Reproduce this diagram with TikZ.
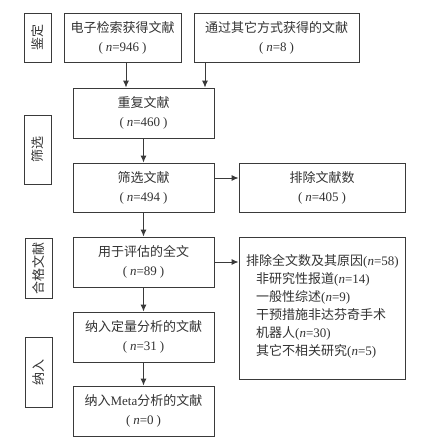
\documentclass[tikz,border=0pt]{standalone}
\usepackage{fontspec}
\setmainfont{Liberation Serif}
\newfontfamily\cjkf{Noto Sans CJK SC}
\usetikzlibrary{arrows.meta}
\definecolor{ink}{HTML}{333333}
\definecolor{edge}{HTML}{3A3A3A}
\newcommand{\Zh}[1]{{\cjkf #1}}
\newcommand{\Nn}[1]{(\hspace{3pt}\textit{n}=#1\hspace{3pt})}
\begin{document}
\begin{tikzpicture}[x=1pt,y=-1pt,
  box/.style={draw=edge,line width=0.9pt,fill=white,text=ink,align=center,inner sep=0pt,
    font=\fontsize{13}{19}\selectfont},
  side/.style={draw=edge,line width=0.9pt,fill=white,text=ink,inner sep=0pt,
    minimum width=27pt,font=\fontsize{13}{15}\selectfont},
  arr/.style={draw=edge,line width=0.9pt,-{Latex[length=7pt,width=6pt]}}]
\useasboundingbox (0,0) rectangle (430,444);
% side labels
\node[side,minimum height=49pt] (s1) at (38,37.5) {\rotatebox{90}{\Zh{鉴定}}};
\node[side,minimum height=69pt] (s2) at (38,149.5) {\rotatebox{90}{\Zh{筛选}}};
\node[side,minimum height=60pt] (s3) at (38.5,268) {\rotatebox{90}{\Zh{合格文献}}};
\node[side,minimum height=70pt] (s4) at (38.5,372) {\rotatebox{90}{\Zh{纳入}}};
% main boxes
\node[box,minimum width=117pt,minimum height=49pt] (a) at (122.5,37.5) {\Zh{电子检索获得文献}\\\Nn{946}};
\node[box,minimum width=165pt,minimum height=49pt] (b) at (276.5,37.5) {\Zh{通过其它方式获得的文献}\\\Nn{8}};
\node[box,minimum width=141pt,minimum height=50pt] (c) at (143.5,113) {\Zh{重复文献}\\\Nn{460}};
\node[box,minimum width=141pt,minimum height=49pt] (d) at (143.5,187.5) {\Zh{筛选文献}\\\Nn{494}};
\node[box,minimum width=166pt,minimum height=49pt] (e) at (322,187.5) {\Zh{排除文献数}\\\Nn{405}};
\node[box,minimum width=141pt,minimum height=50pt] (f) at (143.5,262) {\Zh{用于评估的全文}\\\Nn{89}};
\node[box,minimum width=166pt,minimum height=142pt] (g) at (322,308) {};
\node[box,minimum width=141pt,minimum height=50pt] (h) at (143.5,337) {\Zh{纳入定量分析的文献}\\\Nn{31}};
\node[box,minimum width=141pt,minimum height=50pt] (i) at (143.5,411) {\Zh{纳入}Meta\Zh{分析的文献}\\\Nn{0}};
\node[anchor=north west,inner sep=0pt,align=left,text=ink,font=\fontsize{13}{18}\selectfont] (gt) at (246,254)
 {\Zh{排除全文数及其原因}(\textit{n}=58)\\
  \hspace*{10pt}\Zh{非研究性报道}(\textit{n}=14)\\
  \hspace*{10pt}\Zh{一般性综述}(\textit{n}=9)\\
  \hspace*{10pt}\Zh{干预措施非达芬奇手术}\\
  \hspace*{10pt}\Zh{机器人}(\textit{n}=30)\\
  \hspace*{10pt}\Zh{其它不相关研究}(\textit{n}=5)};
% connectors
\draw[arr] (a.south -| 126,0) -- (c.north -| 126,0);
\draw[arr] (b.south -| 205,0) -- (c.north -| 205,0);
\draw[arr] (c.south) -- (d.north);
\draw[arr] (d.east |- 0,178) -- (e.west |- 0,178);
\draw[arr] (d.south) -- (f.north);
\draw[arr] (f.east) -- (g.west |- f.east);
\draw[arr] (f.south) -- (h.north);
\draw[arr] (h.south) -- (i.north);
\end{tikzpicture}
\end{document}
